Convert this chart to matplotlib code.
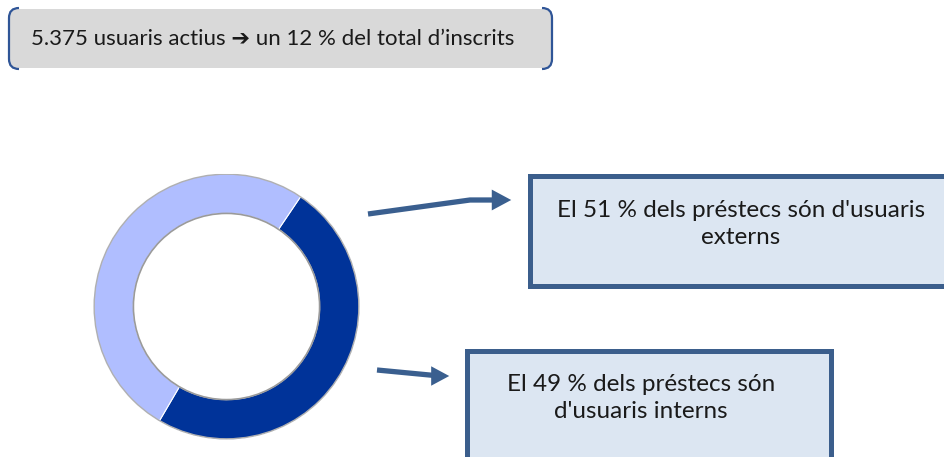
import matplotlib
matplotlib.use("Agg")
import matplotlib.pyplot as plt
from matplotlib.patches import FancyBboxPatch, Rectangle, Circle, PathPatch, FancyArrowPatch
from matplotlib.path import Path

# ---- data ----
categories = ["usuaris interns", "usuaris externs"]
shares = [49, 51]
slice_colors = ["#003399", "#B0BEFF"]
header_text = "5.375 usuaris actius \u2794 un 12 % del total d\u2019inscrits"
box_texts = ["El 51 % dels pr\u00e9stecs s\u00f3n d'usuaris\nexterns",
             "El 49 % dels pr\u00e9stecs s\u00f3n\nd'usuaris interns"]

W, H = 945, 457
fig = plt.figure(figsize=(W / 100, H / 100), dpi=100)
fig.patch.set_facecolor("white")

FONT = ["Lato", "DejaVu Sans"]

# main overlay axes in pixel coordinates
ax = fig.add_axes([0, 0, 1, 1])
ax.set_xlim(0, W)
ax.set_ylim(H, 0)
ax.axis("off")

# ---- header box ----
ax.add_patch(FancyBboxPatch((9, 9), 543, 59, boxstyle="round,pad=0,rounding_size=8",
                            facecolor="#D9D9D9", edgecolor="none", zorder=1))
bc = "#2F5597"
r = 10
left = Path([(9 + r, 8), (9, 8), (9, 8 + r), (9, 69 - r), (9, 69), (9 + r, 69)],
            [Path.MOVETO, Path.CURVE3, Path.CURVE3, Path.LINETO, Path.CURVE3, Path.CURVE3])
right = Path([(552 - r, 8), (552, 8), (552, 8 + r), (552, 69 - r), (552, 69), (552 - r, 69)],
             [Path.MOVETO, Path.CURVE3, Path.CURVE3, Path.LINETO, Path.CURVE3, Path.CURVE3])
for p in (left, right):
    ax.add_patch(PathPatch(p, facecolor="none", edgecolor=bc, lw=1.6, zorder=2))
ax.text(31, 39, header_text, fontsize=16, family=FONT, color="#1a1a1a",
        ha="left", va="center", zorder=3)

# ---- text boxes ----
box_edge = "#3B5E8C"
box_fill = "#DCE6F2"
ax.add_patch(Rectangle((529.5, 175.5), 430, 110, facecolor=box_fill, edgecolor=box_edge,
                       lw=3.6, zorder=2, clip_on=True))
ax.add_patch(Rectangle((466.5, 350.5), 364, 130, facecolor=box_fill, edgecolor=box_edge,
                       lw=3.6, zorder=2, clip_on=True))
ax.text(741, 224, box_texts[0], fontsize=17.5, family=FONT, color="#1a1a1a",
        ha="center", va="center", linespacing=1.3, zorder=3)
ax.text(641, 398, box_texts[1], fontsize=17.5, family=FONT, color="#1a1a1a",
        ha="center", va="center", linespacing=1.3, zorder=3)

# ---- arrows ----
arrow_c = "#3A5F8F"
ax.plot([368, 470, 500], [214, 200, 200], color=arrow_c, lw=3.8, solid_capstyle="butt", zorder=3)
ax.add_patch(FancyArrowPatch((494, 200), (514, 200), arrowstyle="-|>,head_length=1.4,head_width=0.75",
                             mutation_scale=10, color=arrow_c, lw=0, zorder=3))
ax.plot([377, 440], [370, 376], color=arrow_c, lw=3.8, solid_capstyle="butt", zorder=3)
ax.add_patch(FancyArrowPatch((435, 376), (452, 376), arrowstyle="-|>,head_length=1.3,head_width=0.7",
                             mutation_scale=10, color=arrow_c, lw=0, zorder=3))

# ---- donut ----
cx, cy, R = 226.5, 306.5, 133
pax = fig.add_axes([(cx - R) / W, (H - cy - R) / H, 2 * R / W, 2 * R / H])
pax.pie(shares, colors=slice_colors, startangle=56, counterclock=False,
        radius=1.0, wedgeprops=dict(width=0.3, edgecolor="white", linewidth=0.8))
pax.add_patch(Circle((0, 0), 0.995, facecolor="none", edgecolor="#B0B0B0", lw=1.0, zorder=5))
pax.add_patch(Circle((0, 0), 0.7, facecolor="none", edgecolor="#9A9A9A", lw=1.2, zorder=5))
pax.set_xlim(-1.0, 1.0)
pax.set_ylim(-1.0, 1.0)
pax.set_aspect("equal")
pax.axis("off")

fig.savefig("out.png", dpi=100, facecolor="white")
